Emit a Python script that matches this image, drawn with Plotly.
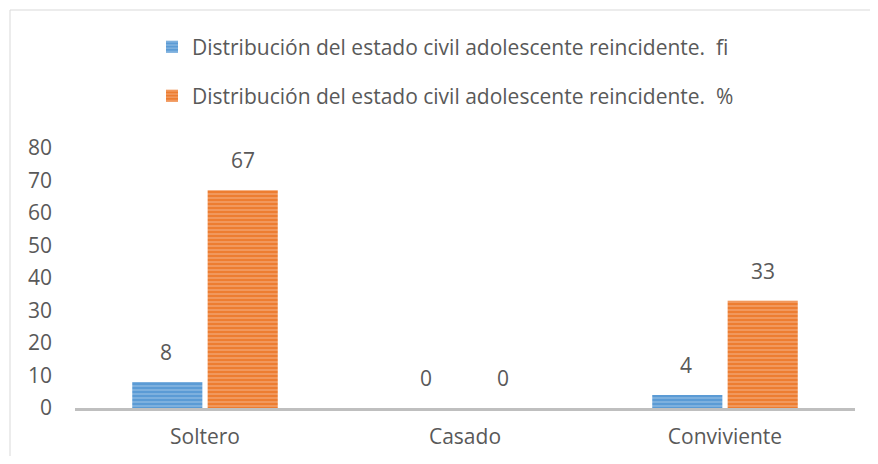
import plotly.graph_objects as go

categories = ["Soltero", "Casado", "Conviviente"]
fi_values = [8, 0, 4]
pct_values = [67, 0, 33]
series_names = [
    "Distribución del estado civil adolescente reincidente.  fi",
    "Distribución del estado civil adolescente reincidente.  %",
]
y_ticks = [0, 10, 20, 30, 40, 50, 60, 70, 80]

FONT = "Open Sans"
FS = 21
TXT = "#595959"
OFF = 8  # default page body margin
W, H = 878 - 2 * OFF, 464 - 2 * OFF
L, T = 75 - OFF, 148 - OFF
pw, ph = 780, 260
R, B = W - L - pw, H - T - ph

def px_x(x):  # page x -> paper
    return (x - OFF - L) / pw

def px_y(y):  # page y -> paper
    return (T + ph - (y - OFF)) / ph

fig = go.Figure()
fig.add_trace(go.Bar(
    x=categories, y=fi_values, name=series_names[0],
    marker=dict(color="#5B9BD5", line=dict(width=0),
                pattern=dict(shape="-", fgcolor="#BDD7EE", size=4, solidity=0.35)),
    legend="legend", showlegend=True,
))
fig.add_trace(go.Bar(
    x=categories, y=pct_values, name=series_names[1],
    marker=dict(color="#ED7D31", line=dict(width=0),
                pattern=dict(shape="-", fgcolor="#F8CBAD", size=4, solidity=0.35)),
    legend="legend2", showlegend=True,
))

# data labels, placed from the data values
annotations = []
for vals, shift in ((fi_values, -39), (pct_values, 38)):
    for c, v in zip(categories, vals):
        annotations.append(dict(
            x=c, y=v, xref="x", yref="y", text=str(v), showarrow=False,
            xshift=shift, yshift=30, yanchor="middle",
            font=dict(family=FONT, size=FS, color=TXT)))

fig.update_layout(
    width=W, height=H,
    margin=dict(l=L, r=R, t=T, b=B, autoexpand=False),
    paper_bgcolor="white", plot_bgcolor="white",
    font=dict(family=FONT, size=FS, color=TXT),
    barmode="group", bargap=0.42, bargroupgap=0.07,
    showlegend=True,
    legend=dict(x=px_x(152), y=px_y(47), xanchor="left", yanchor="middle",
                font=dict(family=FONT, size=FS, color=TXT), bgcolor="rgba(0,0,0,0)",
                itemwidth=30),
    legend2=dict(x=px_x(152), y=px_y(96), xanchor="left", yanchor="middle",
                 font=dict(family=FONT, size=FS, color=TXT), bgcolor="rgba(0,0,0,0)",
                 itemwidth=30),
    xaxis=dict(showline=True, linecolor="#BFBFBF", linewidth=3, showgrid=False,
               ticks="", tickfont=dict(family=FONT, size=FS, color=TXT),
               ticklabelstandoff=8),
    yaxis=dict(range=[0, 80], tickvals=y_ticks, showgrid=False, zeroline=False,
               showline=False, ticks="", tickfont=dict(family=FONT, size=FS, color=TXT),
               ticklabelstandoff=22),
    annotations=annotations,
    shapes=[dict(type="rect", xref="paper", yref="paper",
                 x0=px_x(10), x1=px_x(900), y0=px_y(480), y1=px_y(10),
                 line=dict(color="#D9D9D9", width=1), fillcolor="rgba(0,0,0,0)",
                 layer="below")],
)

fig.write_html("out.html")
